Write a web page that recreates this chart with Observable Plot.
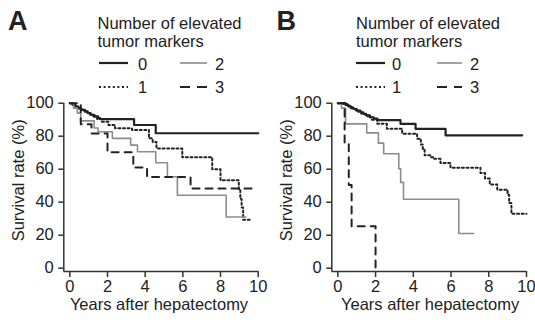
<!DOCTYPE html>
<html><head><meta charset="utf-8">
<script src="https://cdn.jsdelivr.net/npm/d3@7"></script>
<script src="https://cdn.jsdelivr.net/npm/@observablehq/plot@0.6"></script>
<style>
body{margin:0;background:#fff;}
#wrap{position:relative;width:535px;height:325px;overflow:hidden;background:#fff;font-family:"Liberation Sans",Arial,sans-serif;color:#222;}
#wrap > svg{position:absolute;top:0;}
</style></head><body><div id="wrap"></div>
<script>
const groups = ["0", "1", "2", "3"];
const yearTicks = [0, 2, 4, 6, 8, 10];
const rateTicks = [0, 20, 40, 60, 80, 100];
const xLabel = "Years after hepatectomy";
const yLabel = "Survival rate (%)";
const legendTitle = ["Number of elevated", "tumor markers"];
const panelNames = ["A", "B"];

// Panel A: [years, survival %] (step-after)
const a0 = [[0,100],[0.15,99],[0.3,98],[0.45,97],[0.6,96],[0.8,95],[0.95,94],[1.1,93],[1.3,92],[1.5,91],[1.6,90.3],[3.41,86.8],[4.56,81.8],[10,81.8]];
const a1 = [[0,100],[0.1,99],[0.25,98],[0.4,97],[0.55,96],[0.75,95],[0.9,94],[1.05,93],[1.25,92],[1.45,90.5],[1.7,88.8],[2.05,86.8],[2.4,84.8],[3.3,83.8],[4.2,78.7],[4.4,76.5],[4.6,72.6],[5.97,67.2],[7.56,59.9],[8.0,53.3],[8.97,48],[9.05,42],[9.12,36.8],[9.2,29.4],[9.6,29.4]];
const a2 = [[0,100],[0.2,97],[0.4,94],[0.58,89.3],[1.29,85],[1.5,82.7],[2.26,78.7],[3.23,74.6],[3.59,70.6],[4.56,63.9],[5.18,55.4],[5.71,44.2],[8.3,31],[9.35,31]];
const a3 = [[0,100],[0.58,87.2],[1.15,81.7],[2.0,70.2],[3.37,61],[4.1,55.3],[6.41,48.3],[9.68,48.3]];

// Panel B
const b0 = [[0,100],[0.4,99],[0.55,98],[0.7,97],[0.85,96.5],[1.0,95.5],[1.2,94.5],[1.35,93.5],[1.5,92.6],[1.7,91.5],[1.9,90.6],[2.1,89.7],[3.32,87.5],[4.12,84.5],[5.71,80.5],[9.77,80.5]];
const b1 = [[0,100],[0.3,99.5],[0.5,98.5],[0.65,97.5],[0.8,96.5],[0.95,95.5],[1.1,94.5],[1.25,93.5],[1.45,92.5],[1.6,91.5],[1.8,90],[2.09,87.5],[2.6,84.5],[3.41,81.5],[4.2,78.5],[4.4,75],[4.5,72.4],[4.6,68.4],[4.9,67.3],[5.1,66.4],[5.44,63.7],[5.97,60.9],[7.56,57.7],[7.8,54.3],[8.05,50.8],[8.45,47.6],[9.0,44.5],[9.08,39.5],[9.2,33],[10,33]];
const b2 = [[0,100],[0.2,97],[0.41,87.5],[1.53,82],[2.15,75.8],[2.43,69.4],[3.23,60.3],[3.33,52],[3.48,41.8],[6.41,21],[7.2,21]];
const b3 = [[0,100],[0.36,75.5],[0.58,50.5],[0.73,25.4],[2.0,0]];

const xDomain = [-0.32, 10];
const yDomain = [-2, 100];
const ink = "#222";
const lineStyles = [
  {stroke: ink, strokeWidth: 2.2, strokeDasharray: null},
  {stroke: ink, strokeWidth: 2, strokeDasharray: "2,2.6"},
  {stroke: "#8c8c8c", strokeWidth: 1.6, strokeDasharray: null},
  {stroke: ink, strokeWidth: 2, strokeDasharray: "7,6"}
];
const legendDash = [null, "2,2.6", null, "10,7"];

function panel(series, w, mr, titleDx) {
  return Plot.plot({
    width: w, height: 325,
    marginLeft: 63.3, marginRight: mr, marginTop: 102.7, marginBottom: 54,
    x: {domain: xDomain},
    y: {domain: yDomain},
    style: {fontFamily: "'Liberation Sans', Arial, sans-serif", fontSize: "16.5px", color: ink, background: "transparent", overflow: "visible"},
    marks: [
      Plot.ruleY([yDomain[0]], {x1: xDomain[0], x2: xDomain[1], stroke: "#333", strokeWidth: 1.5}),
      Plot.ruleX([xDomain[0]], {y1: yDomain[0], y2: yDomain[1], stroke: "#333", strokeWidth: 1.5}),
      Plot.axisX({ticks: yearTicks, tickSize: 6, tickPadding: 3, label: null, stroke: "#333", strokeWidth: 1.5}),
      Plot.axisY({ticks: rateTicks, tickSize: 5, tickPadding: 5, label: null, stroke: "#333", strokeWidth: 1.5}),
      ...series.map((pts, i) => Plot.line(pts, {x: d => d[0], y: d => d[1], curve: "step-after", ...lineStyles[i]})),
      Plot.text([yLabel], {frameAnchor: "left", rotate: -90, textAnchor: "middle", lineAnchor: "middle", dx: -45, dy: -7}),
      Plot.text([xLabel], {frameAnchor: "bottom", textAnchor: "middle", lineAnchor: "middle", dy: 33.5, dx: titleDx})
    ]
  });
}

const wrap = document.getElementById("wrap");
const pA = panel([a0, a1, a2, a3], 268, 10.3, -2);
pA.style.left = "0px";
wrap.appendChild(pA);
const pB = panel([b0, b1, b2, b3], 267, 9, 1);
pB.style.left = "268px";
wrap.appendChild(pB);

// Overlay: panel letters and legends
const NS = "http://www.w3.org/2000/svg";
const ov = document.createElementNS(NS, "svg");
ov.setAttribute("width", 535); ov.setAttribute("height", 325);
ov.style.position = "absolute"; ov.style.left = "0"; ov.style.top = "0";
ov.style.fontFamily = "'Liberation Sans', Arial, sans-serif";
wrap.appendChild(ov);
function txt(s, x, y, size, weight) {
  const t = document.createElementNS(NS, "text");
  t.setAttribute("x", x); t.setAttribute("y", y);
  t.setAttribute("font-size", size); t.setAttribute("fill", ink);
  if (weight) t.setAttribute("font-weight", weight);
  t.textContent = s; ov.appendChild(t);
}
function seg(x1, x2, y, st, dash) {
  const l = document.createElementNS(NS, "line");
  l.setAttribute("x1", x1); l.setAttribute("x2", x2);
  l.setAttribute("y1", y); l.setAttribute("y2", y);
  l.setAttribute("stroke", st.stroke); l.setAttribute("stroke-width", st.strokeWidth);
  if (dash) l.setAttribute("stroke-dasharray", dash);
  ov.appendChild(l);
}
const legendPos = [
  {letter: 8, title: 97.5, cols: [[99, 128, 138], [180, 207, 215]]},
  {letter: 276.5, title: 356, cols: [[356, 385, 392], [437, 462, 470]]}
];
legendPos.forEach((p, k) => {
  txt(panelNames[k], p.letter, 29.5, 27, "bold");
  txt(legendTitle[0], p.title, 29, 16.5);
  txt(legendTitle[1], p.title, 46.5, 16.5);
  const rowsY = [[63, 70], [87, 92.5]];
  groups.forEach((g, i) => {
    const col = p.cols[Math.floor(i / 2)];
    const row = rowsY[i % 2];
    seg(col[0], col[1], row[0], lineStyles[i], legendDash[i]);
    txt(g, col[2], row[1], 16.5);
  });
});
</script></body></html>
